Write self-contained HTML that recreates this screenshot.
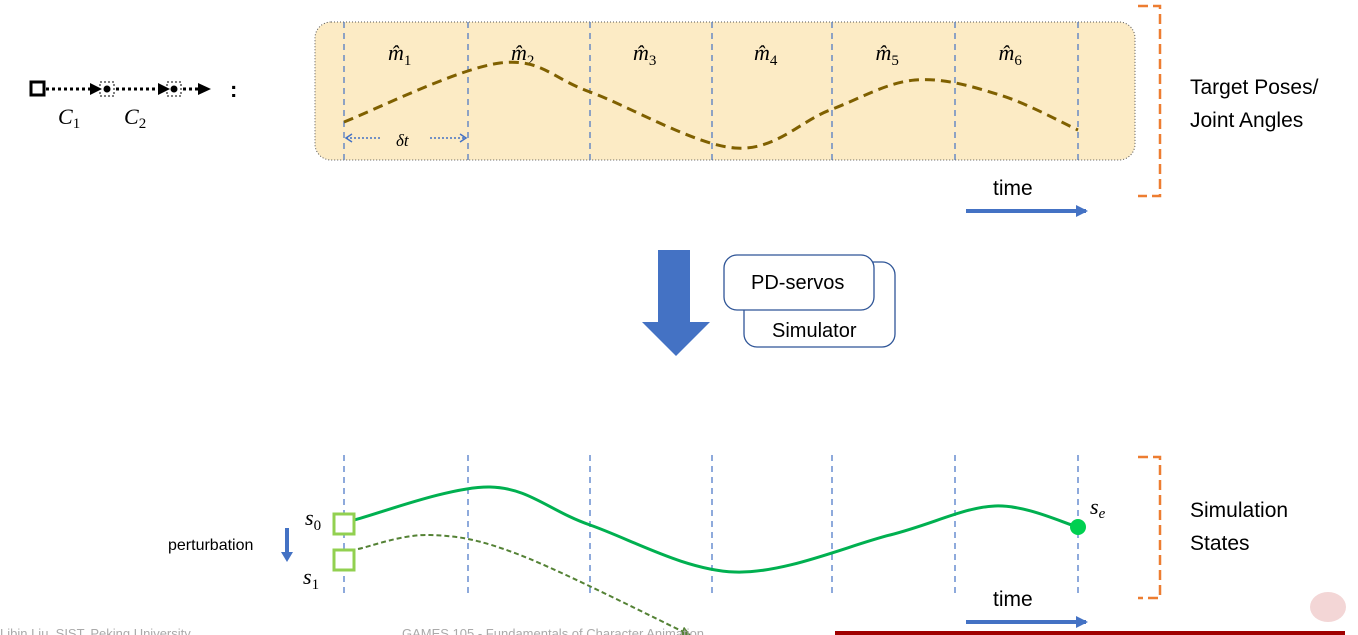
<!DOCTYPE html>
<html><head><meta charset="utf-8">
<style>
body{margin:0;width:1358px;height:635px;overflow:hidden;background:#fff;font-family:"Liberation Sans",sans-serif}
svg{display:block}
.t{font-family:"Liberation Sans",sans-serif;fill:#000}
.m{font-family:"Liberation Serif",serif;font-style:italic;fill:#000}
</style></head><body>
<svg width="1358" height="635" viewBox="0 0 1358 635">
<defs>
<marker id="abl" markerUnits="userSpaceOnUse" markerWidth="12" markerHeight="12" refX="10" refY="6" orient="auto"><path d="M0,0L12,6L0,12z" fill="#4472c4"/></marker>
<marker id="ag" markerUnits="userSpaceOnUse" markerWidth="10" markerHeight="10" refX="9" refY="5" orient="auto"><path d="M0,0L10,5L0,10z" fill="#548235"/></marker>
</defs>
<g>
<rect x="31" y="82" width="13" height="13" fill="none" stroke="#000" stroke-width="3"/>
<line x1="46" y1="89" x2="98" y2="89" stroke="#000" stroke-width="3" stroke-dasharray="3,3"/>
<path d="M90,83L102,89L90,95z" fill="#000"/>
<rect x="100" y="82" width="14" height="14" fill="none" stroke="#000" stroke-dasharray="2,2"/>
<circle cx="107" cy="89" r="3.5" fill="#000"/>
<line x1="116" y1="89" x2="166" y2="89" stroke="#000" stroke-width="3" stroke-dasharray="3,3"/>
<path d="M158,83L170,89L158,95z" fill="#000"/>
<rect x="167" y="82" width="14" height="14" fill="none" stroke="#000" stroke-dasharray="2,2"/>
<circle cx="174" cy="89" r="3.5" fill="#000"/>
<line x1="183" y1="89" x2="200" y2="89" stroke="#000" stroke-width="3" stroke-dasharray="3,3"/>
<path d="M198,83L211,89L198,95z" fill="#000"/>
<text x="230" y="97" class="t" font-size="22" font-weight="bold">:</text>
<text x="58" y="124" class="m" font-size="22">C<tspan font-size="15" font-style="normal" dy="4">1</tspan></text>
<text x="124" y="124" class="m" font-size="22">C<tspan font-size="15" font-style="normal" dy="4">2</tspan></text>
</g>
<rect x="315" y="22" width="820" height="138" rx="16" fill="#fcebc5" stroke="#555" stroke-dasharray="1,2"/>
<g id="vlines" stroke="#4472c4" stroke-dasharray="6,5" stroke-width="1.2"></g>
<g id="mlabels"></g>
<path id="brown" fill="none" stroke="#7f6000" stroke-width="3" stroke-dasharray="10,6"/>
<g>
<line x1="346" y1="138" x2="382" y2="138" stroke="#4472c4" stroke-width="1.5" stroke-dasharray="2,2"/>
<path d="M352,134L346,138L352,142" fill="none" stroke="#4472c4" stroke-width="1.5"/>
<line x1="430" y1="138" x2="466" y2="138" stroke="#4472c4" stroke-width="1.5" stroke-dasharray="2,2"/>
<path d="M460,134L466,138L460,142" fill="none" stroke="#4472c4" stroke-width="1.5"/>
<text x="396" y="146" class="m" font-size="17">δt</text>
</g>
<text x="993" y="195" class="t" font-size="21">time</text>
<line x1="966" y1="211" x2="1086" y2="211" stroke="#4472c4" stroke-width="4" marker-end="url(#abl)"/>
<path d="M1138,6H1160V196H1138" fill="none" stroke="#ed7d31" stroke-width="2.5" stroke-dasharray="10,5"/>
<text x="1190" y="94" class="t" font-size="21">Target Poses/</text>
<text x="1190" y="127" class="t" font-size="21">Joint Angles</text>
<path d="M658,250H690V322H710L676,356L642,322H658Z" fill="#4472c4"/>
<rect x="744" y="262" width="151" height="85" rx="13" fill="#fff" stroke="#2f5597" stroke-width="1.3"/>
<text x="772" y="337" class="t" font-size="20">Simulator</text>
<rect x="724" y="255" width="150" height="55" rx="13" fill="#fff" stroke="#2f5597" stroke-width="1.3"/>
<text x="751" y="289" class="t" font-size="20">PD-servos</text>
<g id="vlines2" stroke="#4472c4" stroke-dasharray="6,5" stroke-width="1.2"></g>
<path id="green" fill="none" stroke="#00b050" stroke-width="3"/>
<path id="green2" fill="none" stroke="#548235" stroke-width="2" stroke-dasharray="5,3" marker-end="url(#ag)"/>
<circle cx="1078" cy="527" r="8" fill="#00d050"/>
<rect x="334" y="514" width="20" height="20" fill="#fff" stroke="#92d050" stroke-width="3"/>
<rect x="334" y="550" width="20" height="20" fill="#fff" stroke="#92d050" stroke-width="3"/>
<text x="305" y="525" class="m" font-size="22">s<tspan font-size="15" font-style="normal" dy="5">0</tspan></text>
<text x="303" y="584" class="m" font-size="22">s<tspan font-size="15" font-style="normal" dy="5">1</tspan></text>
<text x="1090" y="514" class="m" font-size="22">s<tspan font-size="15" dy="4">e</tspan></text>
<text x="168" y="550" class="t" font-size="16">perturbation</text>
<line x1="287" y1="528" x2="287" y2="556" stroke="#4472c4" stroke-width="4"/>
<path d="M281,552L293,552L287,562z" fill="#4472c4"/>
<text x="993" y="606" class="t" font-size="21">time</text>
<line x1="966" y1="622" x2="1086" y2="622" stroke="#4472c4" stroke-width="4" marker-end="url(#abl)"/>
<path d="M1138,457H1160V598H1138" fill="none" stroke="#ed7d31" stroke-width="2.5" stroke-dasharray="10,5"/>
<text x="1190" y="517" class="t" font-size="21">Simulation</text>
<text x="1190" y="550" class="t" font-size="21">States</text>
<text x="0" y="638" class="t" font-size="13" style="fill:#aaa">Libin Liu, SIST, Peking University</text>
<text x="402" y="638" class="t" font-size="13" style="fill:#aaa">GAMES 105 - Fundamentals of Character Animation</text>
<rect x="835" y="631" width="510" height="4" fill="#a00000"/>
<ellipse cx="1328" cy="607" rx="18" ry="15" fill="#f3d6d6"/>
</svg>
<script>
const gridX=[344,468,590,712,832,955,1078];
const labels=["1","2","3","4","5","6"];
const brownPts=[[344,122],[500,63],[590,92],[735,148],[830,110],[915,80],[1000,95],[1078,130]];
const greenPts=[[354,520],[490,487],[590,525],[735,572],[890,535],[995,506],[1078,527]];
const green2Pts=[[358,549],[430,535],[520,555],[690,635]];
const NS="http://www.w3.org/2000/svg";
function smooth(p){let d="M"+p[0][0]+","+p[0][1];for(let i=0;i<p.length-1;i++){const p0=p[i-1]||p[i],p1=p[i],p2=p[i+1],p3=p[i+2]||p2;d+=" C"+(p1[0]+(p2[0]-p0[0])/6)+","+(p1[1]+(p2[1]-p0[1])/6)+" "+(p2[0]-(p3[0]-p1[0])/6)+","+(p2[1]-(p3[1]-p1[1])/6)+" "+p2[0]+","+p2[1];}return d;}
document.getElementById('brown').setAttribute('d',smooth(brownPts));
document.getElementById('green').setAttribute('d',smooth(greenPts));
document.getElementById('green2').setAttribute('d',smooth(green2Pts));
gridX.forEach((x,i)=>{
 [['vlines',22,160],['vlines2',455,597]].forEach(([g,y1,y2])=>{
  const l=document.createElementNS(NS,'line');
  l.setAttribute('x1',x);l.setAttribute('x2',x);l.setAttribute('y1',y1);l.setAttribute('y2',y2);
  
  
  document.getElementById(g).appendChild(l);
 });
 if(i<labels.length){
  const t=document.createElementNS(NS,'text');
  t.setAttribute('x',(x+gridX[i+1])/2-18);t.setAttribute('y',60);
  t.setAttribute('class','m');t.setAttribute('font-size','22');
  t.innerHTML='m&#770;<tspan font-size="15" font-style="normal" dy="5">'+labels[i]+'</tspan>';
  
  
  document.getElementById('mlabels').appendChild(t);
 }
});
</script>
</body></html>
